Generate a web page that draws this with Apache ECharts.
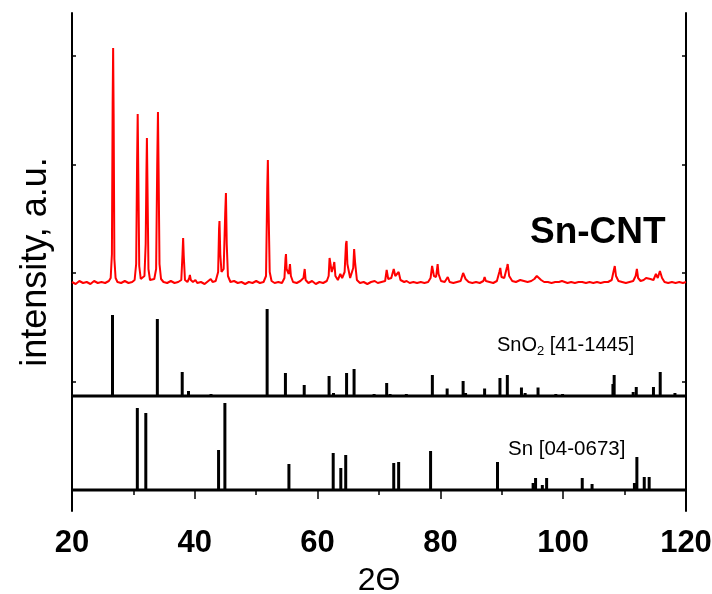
<!DOCTYPE html>
<html>
<head>
<meta charset="utf-8">
<script src="https://cdn.jsdelivr.net/npm/echarts@6/dist/echarts.min.js"></script>
<style>html,body{margin:0;padding:0;background:#fff;}#c{width:712px;height:594px;}</style>
</head>
<body>
<div id="c"></div>
<script>
// ---- data ----
const xTicks = [20, 40, 60, 80, 100, 120];
const yTickValues = [0, 108.5, 217, 325.5, 434];
const snBase = 0, sno2Base = 94, cntBase = 206;

// Sn-CNT measured pattern: [2theta, intensity above its baseline]
const snCntPattern = [
[20,2],[20.6,0],[21.2,3],[21.8,1],[22.4,2],[23,0],[23.6,3],[24.2,1],[24.8,2],[25.4,1],[26.0,3],
[26.3,6],[26.5,30],[26.62,180],[26.7,236],[26.78,170],[26.9,25],[27.1,6],[27.4,2],
[28,1],[28.6,3],[29.2,1],[29.8,2],[30.2,4],
[30.45,20],[30.6,120],[30.7,170],[30.8,110],[30.95,18],[31.2,5],[31.5,3],[31.8,8],
[32.0,40],[32.12,110],[32.2,146],[32.3,95],[32.45,15],[32.7,4],[33.0,2],[33.4,5],[33.7,15],
[33.88,120],[34.0,172],[34.1,115],[34.25,20],[34.5,5],[34.9,2],[35.5,1],[36.1,3],[36.7,1],[37.3,2],[37.8,4],
[38.0,30],[38.1,46],[38.2,28],[38.4,4],[38.8,2],[39.1,6],[39.2,9],[39.35,4],[39.7,2],[40.1,4],[40.4,1],[41,2],[41.6,0],[42.2,3],[42.6,5],[42.7,6],[42.9,2],[43.4,3],[43.8,12],
[43.95,55],[44.02,63],[44.15,30],[44.35,12],[44.7,15],[44.95,70],[45.07,91],[45.2,40],[45.4,8],[45.8,2],
[46.4,3],[47,1],[47.6,2],[48.2,0],[48.8,2],[49.4,1],[50,3],[50.6,1],[51.2,2],[51.6,8],
[51.8,95],[51.9,124],[52.0,80],[52.2,12],[52.5,3],[53,1],[53.6,2],[54.2,1],[54.6,6],
[54.78,26],[54.85,30],[54.95,15],[55.3,10],[55.5,20],[55.65,8],[56,2],[56.6,1],[57.2,3],[57.7,6],[57.9,15],[58.05,4],[58.5,1],[59.1,3],[59.7,0],[60.3,2],[60.9,1],[61.5,3],[61.8,8],
[61.95,26],[62.05,28],[62.3,12],[62.6,18],[62.72,22],[62.9,8],[63.3,4],[63.7,10],[63.8,11],[64.0,6],[64.4,12],
[64.62,40],[64.72,43],[64.85,20],[65.3,6],[65.8,16],[65.95,35],[66.1,22],[66.4,4],[66.9,1],[67.5,2],[68.1,0],[68.7,2],[69.3,3],[69.5,4],[69.8,1],[70.4,2],[71.0,3],
[71.25,14],[71.35,16],[71.5,5],[72.0,6],[72.4,15],[72.5,17],[72.65,8],[73.2,12],[73.3,13],[73.5,4],[74.1,2],[74.5,3],[75,1],[75.6,2],[76.2,1],[76.8,2],[77.4,1],[78,2],[78.4,6],
[78.65,18],[78.75,20],[78.95,8],[79.3,7],[79.55,20],[79.7,10],[80.1,3],[80.7,2],[81.2,7],[81.5,2],[82.1,1],[82.7,2],[83.3,3],[83.7,11],[83.8,12],[84.1,5],[84.6,2],[85.2,1],[85.8,2],[86.4,1],[87.0,3],[87.2,7],[87.4,3],[88,2],[88.6,1],[89.2,3],
[89.6,12],[89.75,16],[89.95,7],[90.4,6],[90.85,17],[90.96,20],[91.2,8],[91.7,3],[92.3,2],[93.0,4],[93.3,6],[93.6,3],[94.2,2],[94.8,3],[95.3,5],[95.7,8],[95.9,7],[96.4,4],[96.9,2],[97.5,2],[98.1,1],[98.7,2],[99.3,2],[99.8,3],[100.1,2],[100.7,1],[101.3,2],[101.9,1],[102.5,2],[103.1,2],[103.3,3],[103.7,1],[104.3,2],[104.9,1],[105.5,2],[106.1,1],[106.7,2],[107.3,2],[107.9,4],
[108.25,14],[108.4,18],[108.6,8],[109.0,3],[109.6,2],[110.2,1],[110.8,2],[111.4,3],[111.8,8],[112.0,15],[112.2,6],[112.6,3],[113.1,4],[113.5,6],[113.8,4],[114.2,5],[114.4,7],[114.7,4],[115.1,10],[115.4,6],[115.75,13],[115.9,15],[116.1,6],[116.5,2],[117.1,1],[117.7,2],[118.3,1],[118.9,2],[119.5,1],[120,2]
];

// SnO2 reference [41-1445]: [2theta, relative intensity]
const sno2Sticks = [
[26.6,81],[33.9,77],[37.95,24],[38.97,5],[42.64,2],[51.78,87],[54.76,23],[57.82,11],[61.87,20],[62.59,3],
[64.72,23],[65.94,27],[69.2,2],[71.25,13],[71.8,2],[74.45,2],[78.69,21],[81.1,7.5],[83.7,15],[84.1,3],
[87.2,7.5],[89.7,18],[90.9,21],[93.2,8.5],[93.8,3],[95.9,8.5],[98.8,2],[99.9,2],[108.1,12],[108.3,21],
[111.4,4],[111.9,9],[114.7,9],[115.8,24],[118.2,3]
];

// Sn reference [04-0673]: [2theta, relative intensity]
const snSticks = [
[30.64,82],[32.02,77],[43.87,40],[44.9,87],[55.33,26],[62.54,37],[63.78,22],[64.58,35],[72.4,27],[73.2,28],
[78.4,39],[89.3,28],[95.1,7],[95.5,12],[96.6,5],[97.3,12],[103.1,12],[104.7,6],[111.6,7],[112.0,33],[113.2,13],[114.0,13]
];

// ---- chart ----
const chart = echarts.init(document.getElementById('c'));
function stickSeries(data, base) {
  return {
    type: 'custom',
    xAxisIndex: 0, yAxisIndex: 0,
    data: data,
    clip: true,
    renderItem: function (params, api) {
      const x = api.value(0), h = api.value(1);
      const p0 = api.coord([x, base]);
      const p1 = api.coord([x, base + h]);
      return { type: 'line', shape: { x1: p0[0], y1: p0[1], x2: p1[0], y2: p1[1] },
               style: { stroke: '#000', lineWidth: 3 } };
    }
  };
}
function baseLine(base) {
  return { type: 'line', data: [[20, base], [120, base]], symbol: 'none', silent: true,
           lineStyle: { color: '#000', width: 3 } };
}
const font = '"Liberation Sans", Arial, sans-serif';
chart.setOption({
  animation: false,
  backgroundColor: '#fff',
  grid: { left: 72, top: 13, width: 614, height: 498, containLabel: false, outerBoundsMode: 'none' },
  xAxis: [{
    type: 'value', min: 20, max: 120, interval: 20,
    axisLine: { lineStyle: { color: '#000', width: 2 } },
    axisTick: { length: 9, lineStyle: { color: '#000', width: 1.5 } },
    minorTick: { show: true, splitNumber: 2, length: 5, lineStyle: { color: '#000', width: 1.5 } },
    axisLabel: { color: '#000', fontFamily: font, fontWeight: 'bold', fontSize: 31, margin: 17,
                 formatter: v => xTicks.indexOf(v) >= 0 ? String(v) : '' },
    splitLine: { show: false },
    name: '2Θ', nameLocation: 'middle', nameGap: 54,
    nameTextStyle: { color: '#000', fontFamily: font, fontSize: 32 }
  }, {
    type: 'value', min: 20, max: 120, position: 'top',
    axisLine: { lineStyle: { color: '#000', width: 2 } },
    axisTick: { show: false }, axisLabel: { show: false }, splitLine: { show: false }
  }],
  yAxis: [{
    type: 'value', min: -21, max: 477,
    axisLine: { show: true, lineStyle: { color: '#000', width: 2 } },
    axisTick: { show: true, inside: true, length: 4, customValues: yTickValues, lineStyle: { color: '#000', width: 1.5 } },
    axisLabel: { show: false }, splitLine: { show: false },
    name: 'intensity, a.u.', nameLocation: 'middle', nameGap: 18, nameRotate: 90,
    nameTextStyle: { color: '#000', fontFamily: font, fontSize: 36 }
  }, {
    type: 'value', min: -21, max: 477, position: 'right',
    axisLine: { show: true, lineStyle: { color: '#000', width: 2 } },
    axisTick: { show: true, inside: true, length: 4, customValues: yTickValues, lineStyle: { color: '#000', width: 1.5 } },
    axisLabel: { show: false }, splitLine: { show: false }
  }],
  series: [
    baseLine(snBase),
    baseLine(sno2Base),
    stickSeries(snSticks, snBase),
    stickSeries(sno2Sticks, sno2Base),
    {
      type: 'line', symbol: 'none', silent: true,
      data: snCntPattern.map(p => [p[0], p[1] + cntBase]),
      lineStyle: { color: '#ff0000', width: 2 }
    }
  ],
  graphic: [
    { type: 'text', left: 530, top: 214, style: { text: 'Sn-CNT', fill: '#000', font: 'bold 37px ' + font } },
    { type: 'text', left: 497, top: 335, style: {
        text: 'SnO{s|2} [41-1445]', fill: '#000', font: '20px ' + font,
        rich: { s: { fontSize: 13, fontFamily: font, padding: [12, 0, 0, 0], fill: '#000' } } } },
    { type: 'text', left: 508, top: 439, style: { text: 'Sn [04-0673]', fill: '#000', font: '20.5px ' + font } }
  ]
});
</script>
</body>
</html>
